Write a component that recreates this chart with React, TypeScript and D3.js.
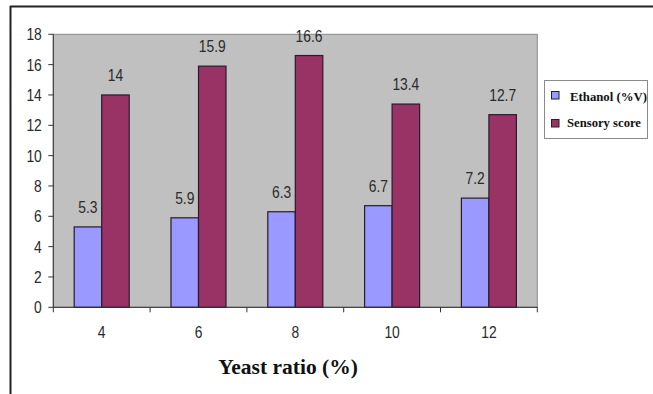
import React from "react";
import * as d3 from "d3";

const categories = ["4", "6", "8", "10", "12"];
const ethanol = [5.3, 5.9, 6.3, 6.7, 7.2];
const sensory = [14, 15.9, 16.6, 13.4, 12.7];
const seriesNames = ["Ethanol (%V)", "Sensory score"];
const seriesColors = ["#9999ff", "#993366"];
const yTicks = [0, 2, 4, 6, 8, 10, 12, 14, 16, 18];

const W = 653;
const H = 394;
const plot = { left: 53.3, right: 537.3, top: 34.3, bottom: 307.3 };
const font = "'Liberation Sans', Arial, sans-serif";
const serif = "'Liberation Serif', 'Times New Roman', serif";

// Narrow sans label, squeezed horizontally like a condensed face
function NarrowText({
  x,
  y,
  anchor,
  children,
}: {
  x: number;
  y: number;
  anchor: "start" | "middle" | "end";
  children: React.ReactNode;
}) {
  return (
    <text
      transform={`translate(${x},${y}) scale(0.84,1)`}
      textAnchor={anchor}
      fontFamily={font}
      fontSize={16.5}
      fill="#2b2b2b"
    >
      {children}
    </text>
  );
}

export default function App() {
  const x = d3
    .scaleBand<string>()
    .domain(categories)
    .range([plot.left, plot.right])
    .paddingInner(0)
    .paddingOuter(0);
  const y = d3.scaleLinear().domain([0, 18]).range([plot.bottom, plot.top]);
  const barW = 27.5;
  const series = [ethanol, sensory];

  return (
    <svg
      width={W}
      height={H}
      style={{ position: "absolute", left: 0, top: 0, background: "#fff" }}
    >
      {/* outer chart frame */}
      <line x1={10} y1={6.5} x2={W} y2={6.5} stroke="#222" strokeWidth={2} />
      <line x1={10.5} y1={6} x2={10.5} y2={H} stroke="#222" strokeWidth={2} />

      {/* plot area */}
      <rect
        x={plot.left}
        y={plot.top}
        width={plot.right - plot.left}
        height={plot.bottom - plot.top}
        fill="#c0c0c0"
        stroke="#8a8a8a"
        strokeWidth={1}
      />

      {/* bars with value labels */}
      {categories.map((c, i) => {
        const cx = (x(c) as number) + x.bandwidth() / 2;
        return series.map((vals, s) => {
          const bx = cx - barW + s * barW;
          const v = vals[i];
          return (
            <g key={c + s}>
              <rect
                x={bx}
                y={y(v)}
                width={barW}
                height={plot.bottom - y(v)}
                fill={seriesColors[s]}
                stroke="#2a1a2a"
                strokeWidth={1.2}
              />
              <NarrowText x={bx + barW / 2} y={y(v) - 14} anchor="middle">
                {v}
              </NarrowText>
            </g>
          );
        });
      })}

      {/* y axis */}
      <line x1={plot.left} y1={plot.top} x2={plot.left} y2={plot.bottom} stroke="#333" strokeWidth={1} />
      {yTicks.map((t) => (
        <g key={t}>
          <line x1={plot.left - 5} x2={plot.left} y1={y(t)} y2={y(t)} stroke="#333" />
          <NarrowText x={plot.left - 11.5} y={y(t) + 6} anchor="end">
            {t}
          </NarrowText>
        </g>
      ))}

      {/* x axis */}
      <line x1={plot.left} y1={plot.bottom} x2={plot.right} y2={plot.bottom} stroke="#333" strokeWidth={1} />
      {categories.map((c, i) => {
        const x0 = x(c) as number;
        return (
          <g key={c}>
            <line x1={x0} x2={x0} y1={plot.bottom} y2={plot.bottom + 5} stroke="#333" />
            {i === categories.length - 1 && (
              <line
                x1={x0 + x.bandwidth()}
                x2={x0 + x.bandwidth()}
                y1={plot.bottom}
                y2={plot.bottom + 5}
                stroke="#333"
              />
            )}
            <NarrowText x={x0 + x.bandwidth() / 2} y={plot.bottom + 31} anchor="middle">
              {c}
            </NarrowText>
          </g>
        );
      })}

      {/* axis title */}
      <text
        x={288}
        y={374}
        textAnchor="middle"
        fontFamily={serif}
        fontWeight="bold"
        fontSize={21.5}
        fill="#111"
      >
        Yeast ratio (%)
      </text>

      {/* legend */}
      <rect x={544.5} y={80.5} width={103} height={58} fill="#fff" stroke="#8a8a8a" />
      {seriesNames.map((n, s) => (
        <g key={n}>
          <rect
            x={551.5}
            y={91.5 + s * 28}
            width={7.5}
            height={7.5}
            fill={seriesColors[s]}
            stroke="#222"
            strokeWidth={1}
          />
          <text
            x={s === 0 ? 570 : 567}
            y={101 + s * 26}
            fontFamily={serif}
            fontWeight="bold"
            fontSize={12.5}
            fill="#111"
            textLength={s === 0 ? 77 : 74}
            lengthAdjust="spacingAndGlyphs"
          >
            {n}
          </text>
        </g>
      ))}
    </svg>
  );
}
